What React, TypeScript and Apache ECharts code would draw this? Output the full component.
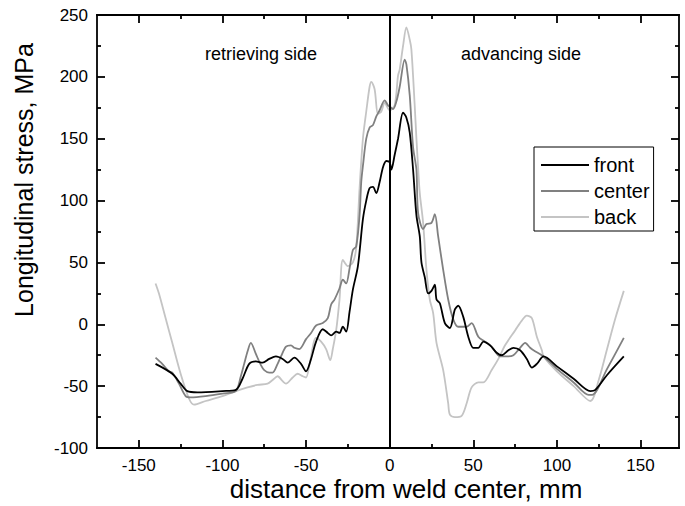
import React, { useEffect, useRef } from 'react';
import * as echarts from 'echarts';

const FONT = '"Liberation Sans", Arial, Helvetica, sans-serif';

const xMajorTicks = [-150, -100, -50, 0, 50, 100, 150];
const xMinorTicks = [-125, -75, -25, 25, 75, 125];

const frontX = [-140, -130, -125, -121, -115, -100, -92, -88, -84, -80, -76, -72, -68, -64, -61, -57, -53, -50, -47, -44, -40, -37, -35, -32, -30, -28, -26, -24, -22, -19, -16, -14, -12, -10, -8, -6, -4, -2, 0, 1, 3, 5, 8, 10, 12, 14, 16, 18, 19, 21, 23, 25, 27, 28, 30, 33, 36, 39, 41, 44, 47, 50, 53, 56, 60, 64, 67, 71, 74, 78, 82, 85, 88, 92, 100, 110, 120, 123, 130, 140];
const frontY = [-32, -40, -48, -54, -55, -54, -53, -44, -32, -30, -31, -28, -26, -28, -31, -27, -32, -38, -28, -14, -4, -7, -9, -6, -7, -2, -6, 10, 28, 47, 85, 100, 110, 111, 106, 115, 127, 132, 131, 125, 137, 150, 171, 167, 155, 125, 88, 71, 50, 38, 25, 27, 32, 20, 17, 1, -3, 12, 15, 6, -10, -19, -19, -14, -17, -23, -25, -21, -19, -21, -28, -35, -32, -26, -34, -44, -54, -53, -41, -26];

const centerX = [-140, -136, -132, -130, -126, -122, -119, -110, -100, -92, -89, -87, -85, -83, -80, -77, -75, -72, -70, -67, -65, -62, -59, -57, -54, -50, -47, -44, -40, -37, -35, -33, -30, -28, -26, -24, -22, -20, -18, -17, -16, -14, -12, -10, -8, -6, -3, -1, 0, 2, 4, 6, 9, 10, 12, 14, 16, 17, 20, 22, 25, 27, 29, 32, 35, 38, 41, 46, 49, 53, 57, 61, 66, 70, 74, 78, 81, 84, 86, 92, 100, 110, 119, 121, 130, 140];
const centerY = [-27, -32, -38, -39, -48, -58, -59, -58, -56, -54, -42, -32, -22, -15, -24, -33, -37, -39, -39, -32, -26, -18, -17, -19, -20, -12, -7, -1, 1, 5, 16, 20, 29, 36, 33, 45, 60, 63, 88, 115, 128, 150, 159, 161, 168, 173, 181, 177, 176, 174, 180, 192, 214, 210, 185, 143, 125, 90, 77, 81, 82, 89, 71, 44, 20, 4, -2, -2, 1, -10, -14, -18, -26, -26, -25, -19, -15, -19, -21, -26, -36, -47, -57, -57, -36, -11];

const backX = [-140, -138, -134, -130, -125, -120, -117, -110, -100, -92, -85, -79, -73, -70, -67, -64, -62, -58, -55, -52, -50, -48, -44, -41, -38, -35.5, -34, -32, -30, -28, -25, -22, -20, -18, -16, -14, -12, -11, -9, -7, -5, -3, 0, 3, 5, 6, 8, 10, 12, 13, 15, 16, 17, 18, 20, 22, 24, 26, 28, 32, 35, 36, 39, 43, 46, 49, 53, 56, 61, 65, 69, 75, 79, 82, 85, 88, 91, 92, 100, 110, 120, 125, 130, 135, 140];
const backY = [33, 25, 5, -15, -40, -60, -65, -62, -58, -54, -51, -49, -48, -45, -42, -46, -48, -43, -40, -42, -43, -33, -11, -14, -20, -29, -20, -5, 20, 52, 47, 50, 62, 110, 150, 172, 192, 196, 190, 170, 172, 179, 173, 177, 201, 206, 225, 240, 230, 222, 176, 150, 127, 106, 82, 44, 20, 9, -15, -37, -64, -73, -75, -74, -64, -51, -47, -47, -37, -28, -17, -5, 3, 7, 5, -10, -21, -26, -38, -50, -62, -45, -20, 5, 27];

const seriesNames = ['front', 'center', 'back'];

const zip = (xs: number[], ys: number[]) => xs.map((x, i) => [x, ys[i]]);

const axisColor = '#000';
const lineW = 1.8;

function xAxisDef(position: 'bottom' | 'top', ticks: number[], len: number, labels: boolean) {
  return {
    type: 'value',
    position,
    min: -175,
    max: 173,
    axisLine: { show: true, onZero: false, lineStyle: { color: axisColor, width: lineW } },
    axisTick: { show: true, inside: true, length: len, customValues: ticks, lineStyle: { color: axisColor, width: lineW } },
    axisLabel: labels
      ? { show: true, customValues: ticks, fontSize: 17, color: '#000', fontFamily: FONT, margin: 9 }
      : { show: false },
    splitLine: { show: false },
  };
}

function yAxisDef(position: 'left' | 'right', labels: boolean) {
  return {
    type: 'value',
    position,
    min: -100,
    max: 250,
    interval: 50,
    axisLine: { show: true, onZero: false, lineStyle: { color: axisColor, width: lineW } },
    axisTick: { show: true, inside: true, length: 8, lineStyle: { color: axisColor, width: lineW } },
    minorTick: { show: true, splitNumber: 2, length: 4, lineStyle: { color: axisColor, width: lineW } },
    axisLabel: labels
      ? { show: true, fontSize: 17, color: '#000', fontFamily: FONT, margin: 9 }
      : { show: false },
    splitLine: { show: false },
    minorSplitLine: { show: false },
  };
}

export default function App() {
  const ref = useRef<HTMLDivElement>(null);
  useEffect(() => {
    const chart = echarts.init(ref.current!, null, { renderer: 'svg' });
    const option: any = {
      animation: false,
      backgroundColor: '#fff',
      grid: { left: 97, right: 6, top: 15, bottom: 58, containLabel: false },
      xAxis: [
        xAxisDef('bottom', xMajorTicks, 8, true),
        xAxisDef('bottom', xMinorTicks, 4, false),
        xAxisDef('top', xMajorTicks, 8, false),
        xAxisDef('top', xMinorTicks, 4, false),
      ],
      yAxis: [yAxisDef('left', true), yAxisDef('right', false)],
      legend: {
        data: seriesNames.map((n) => ({ name: n, icon: 'rect' })),
        orient: 'vertical',
        left: 534,
        top: 147,
        padding: [8, 4, 4, 7],
        itemWidth: 48,
        itemHeight: 2,
        itemGap: 6,
        borderColor: '#000',
        borderWidth: 1,
        borderRadius: 0,
        backgroundColor: '#fff',
        textStyle: { fontSize: 20, fontFamily: FONT, color: '#000', lineHeight: 20 },
      },
      series: [
        {
          name: 'back',
          type: 'line',
          xAxisIndex: 0,
          yAxisIndex: 0,
          data: zip(backX, backY),
          symbol: 'none',
          showSymbol: false,
          smooth: 0.3,
          lineStyle: { color: '#c4c4c4', width: 1.8 },
          itemStyle: { color: '#c4c4c4' },
        },
        {
          name: 'center',
          type: 'line',
          xAxisIndex: 0,
          yAxisIndex: 0,
          data: zip(centerX, centerY),
          symbol: 'none',
          showSymbol: false,
          smooth: 0.3,
          lineStyle: { color: '#808080', width: 1.8 },
          itemStyle: { color: '#808080' },
        },
        {
          name: 'front',
          type: 'line',
          xAxisIndex: 0,
          yAxisIndex: 0,
          data: zip(frontX, frontY),
          symbol: 'none',
          showSymbol: false,
          smooth: 0.3,
          lineStyle: { color: '#000', width: 1.8 },
          itemStyle: { color: '#000' },
          markLine: {
            silent: true,
            symbol: ['none', 'none'],
            label: { show: false },
            lineStyle: { color: '#000', width: 2, type: 'solid' },
            data: [{ xAxis: 0 }],
          },
        },
      ],
      graphic: [
        {
          type: 'text',
          x: 205,
          y: 54,
          style: { text: 'retrieving side', font: `18px ${FONT}`, fill: '#000', textVerticalAlign: 'middle' },
        },
        {
          type: 'text',
          x: 461,
          y: 54,
          style: { text: 'advancing side', font: `18px ${FONT}`, fill: '#000', textVerticalAlign: 'middle' },
        },
        {
          type: 'text',
          x: 24,
          y: 180,
          rotation: Math.PI / 2,
          style: { text: 'Longitudinal stress, MPa', font: `25px ${FONT}`, fill: '#000', textAlign: 'center', textVerticalAlign: 'middle' },
        },
        {
          type: 'text',
          x: 406,
          y: 489,
          style: { text: 'distance from weld center, mm', font: `26px ${FONT}`, fill: '#000', textAlign: 'center', textVerticalAlign: 'middle' },
        },
      ],
    };
    chart.setOption(option);
    return () => chart.dispose();
  }, []);
  return <div ref={ref} style={{ position: 'fixed', left: 0, top: 0, width: 685, height: 506 }} />;
}
